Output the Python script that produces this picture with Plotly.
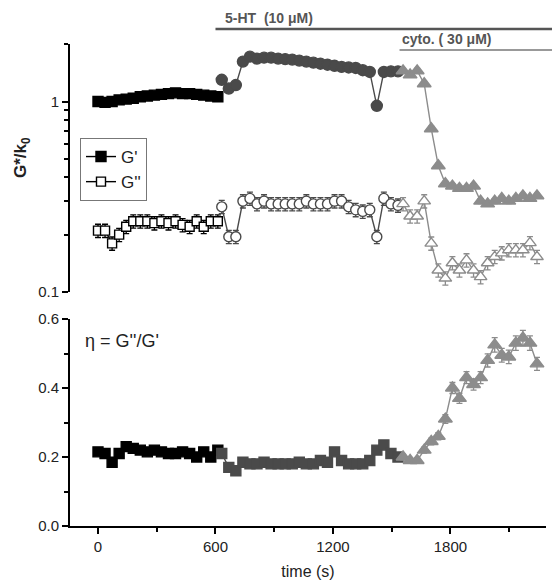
import plotly.graph_objects as go

# ---------------- data ----------------
# time points (s) for the three phases: baseline, 5-HT, cytochalasin
t_base = [0, 36, 72, 108, 144, 180, 216, 252, 288, 324, 360, 396, 432, 468, 504, 540, 576, 612]
t_ht = [632, 668, 704, 740, 776, 812, 848, 884, 920, 956, 992, 1028, 1064, 1100, 1136, 1172,
        1208, 1244, 1280, 1316, 1352, 1388, 1424, 1460, 1496, 1532]
t_cyto = [1558, 1594, 1630, 1666, 1702, 1738, 1774, 1810, 1846, 1882, 1918, 1954, 1990, 2026,
          2062, 2098, 2134, 2170, 2206, 2242]

# G'/k0
gp_base = [1.00, 0.99, 1.00, 1.02, 1.03, 1.04, 1.06, 1.07, 1.08, 1.09, 1.10, 1.11, 1.10, 1.10,
           1.09, 1.08, 1.07, 1.06]
gp_ht = [1.30, 1.17, 1.22, 1.62, 1.72, 1.68, 1.70, 1.70, 1.68, 1.67, 1.66, 1.64, 1.62, 1.60,
         1.58, 1.56, 1.54, 1.52, 1.51, 1.50, 1.46, 1.43, 0.95, 1.43, 1.44, 1.44]
gp_cyto = [1.45, 1.38, 1.45, 1.24, 0.72, 0.46, 0.37, 0.36, 0.35, 0.35, 0.36, 0.30, 0.29, 0.30,
           0.31, 0.30, 0.31, 0.32, 0.31, 0.32]

# G''/k0
gpp_base = [0.21, 0.21, 0.18, 0.20, 0.22, 0.235, 0.235, 0.235, 0.23, 0.235, 0.23, 0.235, 0.225,
            0.22, 0.235, 0.22, 0.235, 0.235]
gpp_ht = [0.28, 0.195, 0.195, 0.30, 0.31, 0.29, 0.30, 0.29, 0.29, 0.29, 0.29, 0.29, 0.30, 0.29,
          0.29, 0.29, 0.30, 0.30, 0.28, 0.27, 0.265, 0.27, 0.195, 0.31, 0.29, 0.285]
gpp_cyto = [0.29, 0.25, 0.25, 0.30, 0.18, 0.13, 0.118, 0.142, 0.13, 0.147, 0.13, 0.12, 0.142,
            0.153, 0.16, 0.166, 0.166, 0.166, 0.181, 0.153]

# eta = G''/G'
eta_base = [0.215, 0.21, 0.185, 0.21, 0.23, 0.225, 0.22, 0.215, 0.22, 0.215, 0.21, 0.21, 0.215,
            0.21, 0.20, 0.215, 0.20, 0.22]
eta_ht = [0.21, 0.17, 0.16, 0.185, 0.18, 0.18, 0.185, 0.18, 0.18, 0.18, 0.18, 0.185, 0.18, 0.18,
          0.19, 0.185, 0.215, 0.19, 0.18, 0.18, 0.18, 0.19, 0.22, 0.235, 0.21, 0.20]
eta_cyto = [0.20, 0.19, 0.19, 0.22, 0.245, 0.26, 0.31, 0.40, 0.37, 0.43, 0.41, 0.43, 0.48, 0.525,
            0.495, 0.49, 0.53, 0.545, 0.53, 0.47]

# treatment start times (s)
t_5ht_start = 600
t_cyto_start = 1540

# tick labels
x_ticks = [0, 600, 1200, 1800]
x_minor = [300, 900, 1500, 2100]
top_ticks = [0.1, 1]
top_ticktext = ["0.1", "1"]
top_minor = [0.2, 0.3, 0.4, 0.5, 0.6, 0.7, 0.8, 0.9, 2]
bot_ticks = [0.0, 0.2, 0.4, 0.6]
bot_ticktext = ["0.0", "0.2", "0.4", "0.6"]
bot_minor = [0.1, 0.3, 0.5]

# ---------------- figure ----------------
BLACK = "#000000"
DARK = "#4a4a4a"
LIGHT = "#8c8c8c"
FONT = "Liberation Sans, Arial, sans-serif"

fig = go.Figure()


def add(t, v, sym, col, filled, xa, ya, name=None, show=False, err=None, size=10):
    tr = dict(
        x=t, y=v, mode="lines+markers", xaxis=xa, yaxis=ya,
        line=dict(color=col, width=1.4),
        marker=dict(symbol=sym, size=size, color=col if filled else "white",
                    line=dict(color=col, width=1.4)),
        name=name or "", showlegend=show,
    )
    if err:
        tr["error_y"] = dict(type="percent", value=err, color=col, thickness=1.3, width=3)
    fig.add_trace(go.Scatter(**tr))


# top panel: G''
add(t_base, gpp_base, "square", BLACK, False, "x2", "y2", err=8, size=9)
add(t_ht, gpp_ht, "circle", DARK, False, "x2", "y2", err=8, size=10)
add(t_cyto, gpp_cyto, "triangle-up", LIGHT, False, "x2", "y2", err=8, size=11)
# top panel: G'
add(t_base, gp_base, "square", BLACK, True, "x2", "y2", name="G'", show=True, size=10)
add(t_ht, gp_ht, "circle", DARK, True, "x2", "y2", size=11)
add(t_cyto, gp_cyto, "triangle-up", LIGHT, True, "x2", "y2", err=3, size=12)
# legend entry for G''
fig.add_trace(go.Scatter(x=[None], y=[None], mode="lines+markers", xaxis="x2", yaxis="y2",
                         line=dict(color=BLACK, width=1.4),
                         marker=dict(symbol="square", size=9, color="white",
                                     line=dict(color=BLACK, width=1.4)),
                         name="G''", showlegend=True))
# bottom panel: eta
add(t_base, eta_base, "square", BLACK, True, "x", "y", size=10)
add(t_ht, eta_ht, "square", DARK, True, "x", "y", size=10)
add(t_cyto, eta_cyto, "triangle-up", LIGHT, True, "x", "y", err=4, size=12)

W, H = 552, 585
x_range = [-143, 2288]
axis_common = dict(showline=True, linewidth=2, linecolor="black", showgrid=False,
                   zeroline=False, ticks="outside", tickwidth=2, ticklen=6,
                   tickcolor="black", tickfont=dict(family=FONT, size=15, color="#222"))

fig.update_layout(
    width=W, height=H,
    margin=dict(l=70, r=6, t=0, b=0),
    paper_bgcolor="white", plot_bgcolor="white",
    font=dict(family=FONT, color="#222"),
    showlegend=True,
    legend=dict(x=0.021, y=1 - 138 / H, xanchor="left", yanchor="top",
                bordercolor="#777", borderwidth=1, bgcolor="white",
                font=dict(family=FONT, size=17, color="#222"),
                itemwidth=30, tracegroupgap=0),
    xaxis=dict(domain=[0, 1], range=x_range, anchor="y", tickmode="array", tickvals=x_ticks,
               minor=dict(tickmode="array", tickvals=x_minor, ticks="outside", ticklen=4,
                          tickwidth=2, tickcolor="black"),
               title=dict(text="time (s)", font=dict(family=FONT, size=16, color="#222"),
                          standoff=12),
               automargin=False, **axis_common),
    yaxis=dict(domain=[1 - 526 / H, 1 - 319 / H], range=[0, 0.6], anchor="x",
               tickmode="array", tickvals=bot_ticks, ticktext=bot_ticktext,
               minor=dict(tickmode="array", tickvals=bot_minor, ticks="outside", ticklen=4,
                          tickwidth=2, tickcolor="black"),
               automargin=False, **axis_common),
    xaxis2=dict(domain=[0, 1], range=x_range, anchor="y2", visible=False),
    yaxis2=dict(domain=[1 - 292 / H, 1 - 44 / H], type="log", range=[-1, 0.302], anchor="x2",
                tickmode="array", tickvals=top_ticks, ticktext=top_ticktext,
                minor=dict(tickmode="array", tickvals=top_minor, ticks="outside", ticklen=4,
                           tickwidth=2, tickcolor="black"),
                automargin=False, **axis_common),
)


def xfrac(t):
    return (t - x_range[0]) / (x_range[1] - x_range[0])


# y-axis title of the top panel
fig.add_annotation(text="<b>G*/k<sub>0</sub></b>", xref="paper", yref="paper",
                   x=(22 - 70) / 476, y=1 - 158 / H, xanchor="center", yanchor="middle",
                   textangle=-90, showarrow=False,
                   font=dict(family=FONT, size=17, color="#222"))

# treatment bars (start at the treatment time, run to the right edge of the page)
fig.add_shape(type="line", xref="paper", yref="paper", x0=xfrac(t_5ht_start), x1=1.02,
              y0=1 - 29 / H, y1=1 - 29 / H, line=dict(color="#555", width=2.5))
fig.add_shape(type="line", xref="paper", yref="paper", x0=xfrac(t_cyto_start), x1=1.02,
              y0=1 - 50 / H, y1=1 - 50 / H, line=dict(color="#999", width=2))
fig.add_annotation(text="<b>5-HT  (10 μM)</b>", xref="x2", yref="paper",
                   x=t_5ht_start, y=1 - 28 / H, xanchor="left", yanchor="bottom",
                   showarrow=False, font=dict(family=FONT, size=14, color="#555"), xshift=8)
fig.add_annotation(text="<b>cyto. ( 30 μM)</b>", xref="x2", yref="paper",
                   x=t_cyto_start, y=1 - 49 / H, xanchor="left", yanchor="bottom",
                   showarrow=False, font=dict(family=FONT, size=14, color="#555"), xshift=0)
fig.add_annotation(text="η = G''/G'", xref="paper", yref="paper", x=(83 - 70) / 476,
                   y=1 - 341 / H, xanchor="left", yanchor="middle", showarrow=False,
                   font=dict(family=FONT, size=18, color="#222"))

fig.write_html("out.html", config={"displayModeBar": False},
               post_script="document.body.style.margin='0px';")
